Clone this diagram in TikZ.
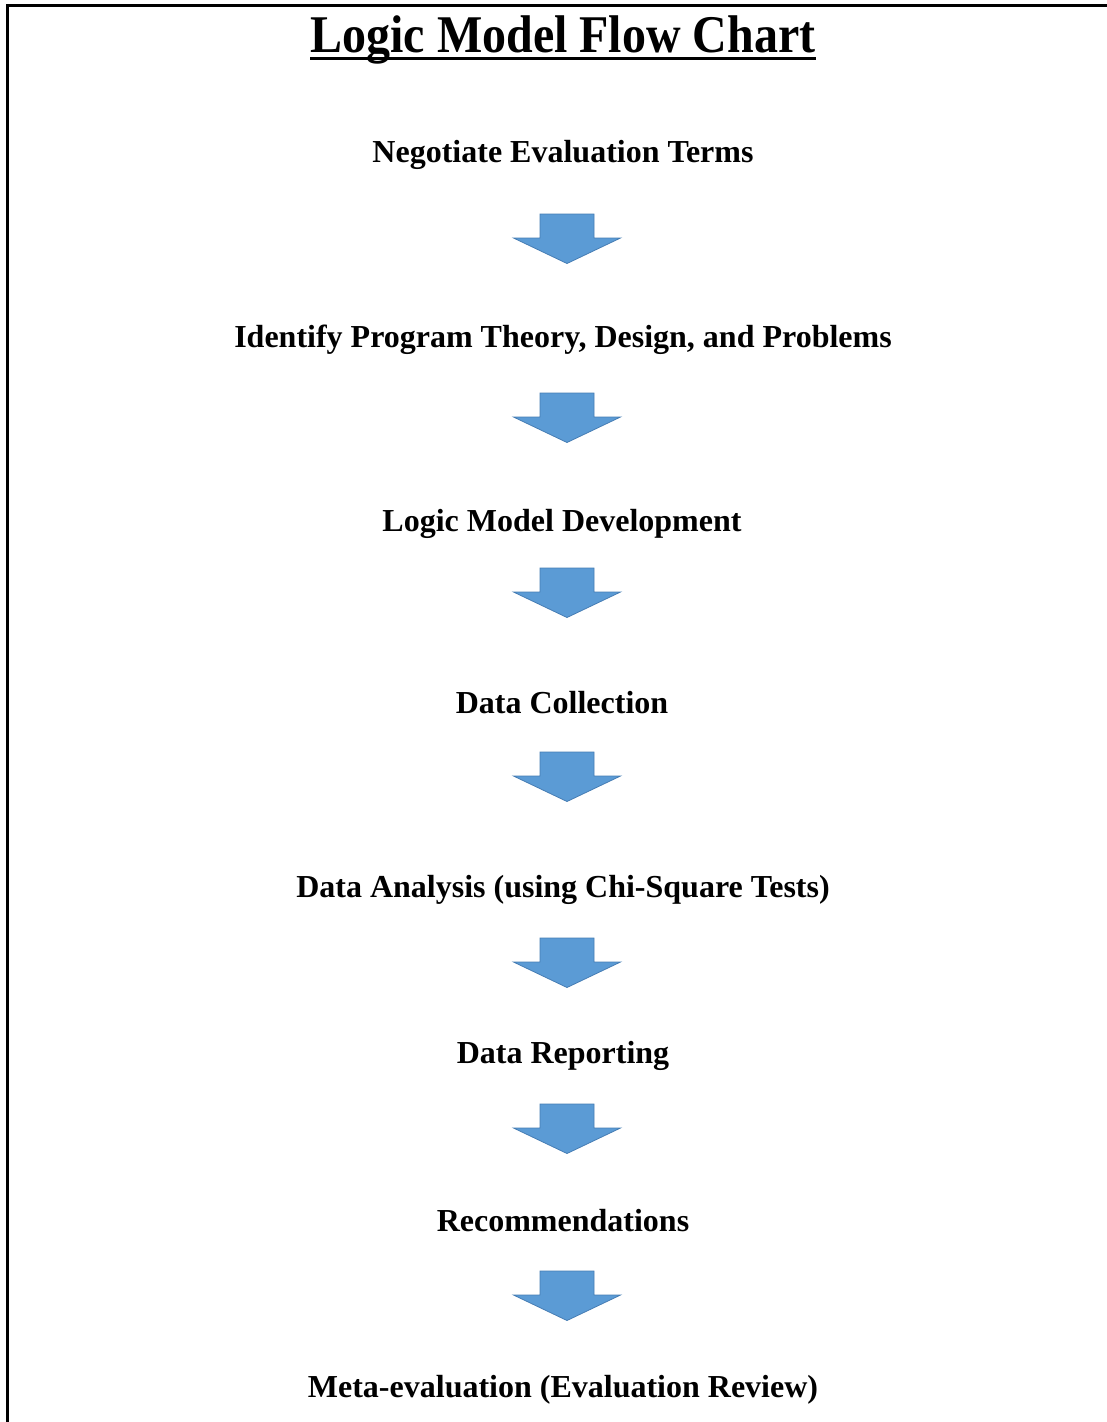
\documentclass[tikz,border=0pt]{standalone}
\usepackage{fontspec}
\setmainfont{Liberation Serif}
\definecolor{arrowfill}{RGB}{91,155,213}
\definecolor{arrowedge}{RGB}{70,125,180}
\begin{document}
\begin{tikzpicture}[x=1pt,y=1pt,
  steptext/.style={anchor=base,inner sep=0pt,font=\fontsize{32}{36}\selectfont\bfseries},
  titletext/.style={anchor=base,inner sep=0pt,font=\fontsize{53}{60}\selectfont\bfseries},
  blockarrow/.pic={
    \fill[arrowfill,draw=arrowedge,line width=0.8pt,line join=miter]
      (-27,0) -- (27,0) -- (27,-24) -- (53.5,-24) -- (0,-49.5) -- (-53.5,-24) -- (-27,-24) -- cycle;
  }]
\useasboundingbox (0,0) rectangle (1107,-1422);
\fill[white] (0,0) rectangle (1107,-1422);
% open frame: top and left edges
\draw[line width=3pt] (7,-1422) -- (7,-5) -- (1107,-5);

\node[titletext] (title) at (563,-52) {\scalebox{0.905}[1]{Logic Model Flow Chart}};
\draw[line width=3pt] ([yshift=-6.5pt]title.base west) -- ([yshift=-6.5pt]title.base east);

\node[steptext] (s1) at (563,-162) {Negotiate Evaluation Terms};
\node[steptext] (s2) at (563,-347) {Identify Program Theory, Design, and Problems};
\node[steptext] (s3) at (562,-531) {Logic Model Development};
\node[steptext] (s4) at (562,-713) {Data Collection};
\node[steptext] (s5) at (563,-897) {Data Analysis (using Chi-Square Tests)};
\node[steptext] (s6) at (563,-1063) {Data Reporting};
\node[steptext] (s7) at (563,-1231) {Recommendations};
\node[steptext] (s8) at (563,-1397) {Meta-evaluation (Evaluation Review)};

\pic at (567,-214) {blockarrow};
\pic at (567,-393) {blockarrow};
\pic at (567,-568) {blockarrow};
\pic at (567,-752) {blockarrow};
\pic at (567,-938) {blockarrow};
\pic at (567,-1104) {blockarrow};
\pic at (567,-1271) {blockarrow};
\end{tikzpicture}
\end{document}
